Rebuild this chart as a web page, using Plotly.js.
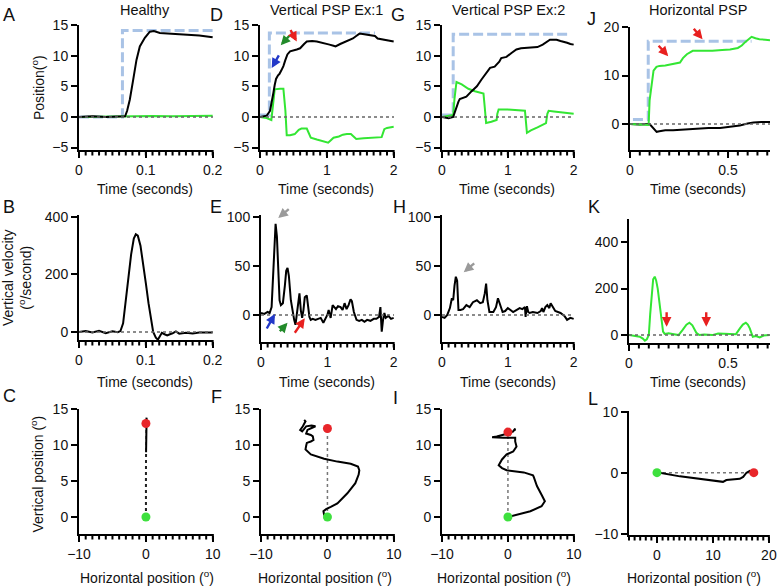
<!DOCTYPE html>
<html><head><meta charset="utf-8">
<script src="https://cdn.plot.ly/plotly-3.0.1.min.js"></script>
<style>body{margin:0;background:#fff}#c{width:778px;height:588px}</style>
</head><body><div id="c"></div>
<script>
// ---------- DATA ----------
// Panel A (Healthy position)
const A_target_t = [0, 0.065, 0.065, 0.2];
const A_target_v = [0, 0, 14.1, 14.1];
const A_black_t = [0, 0.02, 0.04, 0.06, 0.069, 0.072, 0.076, 0.081, 0.086, 0.091, 0.0985, 0.106, 0.112, 0.121, 0.13, 0.15, 0.18, 0.2];
const A_black_v = [0, 0.1, 0, 0.05, 0.1, 1.0, 2.8, 6.0, 9.3, 11.5, 12.9, 13.9, 14.0, 13.7, 13.6, 13.5, 13.3, 13.0];
const A_green_t = [0, 0.03, 0.06, 0.08, 0.11, 0.14, 0.17, 0.2];
const A_green_v = [0, 0.05, 0.0, 0.1, 0.15, 0.1, 0.2, 0.2];
// Panel B (Healthy vertical velocity)
const B_t = [0, 0.01, 0.02, 0.03, 0.04, 0.05, 0.058, 0.062, 0.066, 0.07, 0.074, 0.078, 0.082, 0.085, 0.088, 0.092, 0.096, 0.1, 0.104, 0.108, 0.111, 0.115, 0.118, 0.121, 0.124, 0.128, 0.132, 0.136, 0.14, 0.145, 0.15, 0.16, 0.17, 0.18, 0.19, 0.2];
const B_v = [0, 3, -2, 4, -4, 2, -1, 3, 30, 100, 190, 270, 325, 340, 335, 300, 240, 170, 100, 40, 0, -20, -27, -15, -3, -8, -12, -8, -5, 2, -6, -3, -5, -2, -3, -2];
// Panel C (Healthy trajectory)
const C_fast_x = [0, -0.05, 0, 0.02];
const C_fast_y = [0, 3, 6, 9];
const C_slow_x = [0.02, 0.05, 0.08, 0.1, 0.06, 0];
const C_slow_y = [9, 11, 13, 13.8, 13.4, 13];
const C_start = [0, 0];
const C_end = [0, 13];
// Panel D (Vertical PSP Ex:1 position)
const D_target_t = [0, 0.14, 0.14, 1.72];
const D_target_v = [0.3, 0.3, 13.7, 13.7];
const D_black_t = [0, 0.1, 0.15, 0.18, 0.2, 0.22, 0.24, 0.27, 0.29, 0.32, 0.35, 0.38, 0.41, 0.45, 0.5, 0.55, 0.6, 0.62, 0.66, 0.7, 0.78, 0.85, 0.95, 1.04, 1.1, 1.13, 1.2, 1.29, 1.35, 1.39, 1.44, 1.49, 1.56, 1.64, 1.72, 1.76, 1.82, 1.88, 1.94, 2.0];
const D_black_v = [0, 0.2, 1, 2.5, 3.9, 5.2, 6.2, 6.8, 7.0, 7.6, 8.3, 9.3, 10.2, 10.7, 10.8, 11.0, 11.2, 11.5, 11.9, 12.3, 12.4, 12.3, 12.1, 11.8, 11.6, 11.5, 11.9, 12.3, 12.6, 12.8, 13.2, 13.6, 13.5, 13.3, 13.2, 12.8, 12.7, 12.5, 12.4, 12.3];
const D_green_t = [0, 0.1, 0.17, 0.2, 0.22, 0.3, 0.35, 0.38, 0.4, 0.45, 0.52, 0.58, 0.62, 0.7, 0.72, 0.76, 0.85, 0.95, 1.02, 1.06, 1.1, 1.18, 1.24, 1.3, 1.36, 1.4, 1.44, 1.55, 1.64, 1.75, 1.82, 1.86, 1.9, 2.0];
const D_green_v = [0, -0.2, -0.5, 2, 4.5, 4.6, 4.6, 1, -3, -3, -2.8, -2.1, -1.9, -1.9, -2.5, -3.4, -3.7, -4, -4.2, -3.8, -3.4, -3.2, -2.9, -2.8, -2.8, -3.2, -3.6, -3.5, -3.4, -3.4, -3.3, -2, -1.8, -1.6];
// Panel E (Ex:1 vertical velocity)
const E_t = [0, 0.05, 0.1, 0.13, 0.16, 0.18, 0.2, 0.22, 0.24, 0.26, 0.28, 0.3, 0.33, 0.36, 0.38, 0.4, 0.42, 0.45, 0.48, 0.5, 0.52, 0.54, 0.56, 0.58, 0.6, 0.62, 0.64, 0.66, 0.69, 0.71, 0.73, 0.75, 0.78, 0.82, 0.86, 0.9, 0.94, 0.98, 1.0, 1.02, 1.05, 1.08, 1.1, 1.13, 1.16, 1.2, 1.23, 1.26, 1.29, 1.32, 1.35, 1.37, 1.4, 1.44, 1.48, 1.52, 1.56, 1.6, 1.65, 1.7, 1.74, 1.78, 1.8, 1.82, 1.84, 1.86, 1.88, 1.92, 1.96, 2.0];
const E_v = [2, 1, 3, 2, 8, 35, 75, 93, 80, 40, 15, 10, 12, 30, 45, 48, 40, 15, 2, -5, -10, 0, 12, 22, 5, -3, 5, 18, 20, 5, -2, -5, -4, -5, -4, -3, -8, -2, 0, 5, -3, 10, 8, 6, 9, 8, 5, 12, 6, 10, 16, 14, 3, -5, -6, -5, -7, -5, -6, -4, -4, -2, 8, -17, -5, 2, -3, -1, -4, -3];
// Panel F (Ex:1 trajectory)
const F_x = [0, -0.5, -0.6, -0.2, 0.5, 1.5, 3.0, 4.2, 4.7, 4.8, 4.6, 3.5, 1.5, -0.5, -2.5, -3.3, -3.2, -3.1, -2.5, -2.1, -2.2, -2.5, -3.2, -3.0, -2.3, -1.8, -2.4, -3.2, -3.8, -4.1, -3.7, -3.3, -3.5];
const F_y = [0, 0.3, 0.8, 1.1, 1.4, 1.9, 3.3, 4.7, 5.9, 6.5, 7.0, 7.4, 7.7, 8.1, 8.7, 9.4, 9.9, 10.3, 10.5, 10.7, 11.2, 11.4, 11.6, 12.1, 12.4, 12.6, 12.7, 12.6, 11.9, 12.1, 12.6, 13.3, 13.5];
const F_start = [0, 0];
const F_end = [0, 12.3];
// Panel G (Vertical PSP Ex:2 position)
const G_target_t = [0, 0.17, 0.17, 1.93];
const G_target_v = [0.3, 0.3, 13.5, 13.5];
const G_black_t = [0, 0.1, 0.17, 0.2, 0.22, 0.25, 0.27, 0.3, 0.37, 0.45, 0.53, 0.6, 0.66, 0.68, 0.73, 0.8, 0.83, 0.87, 0.9, 0.98, 1.05, 1.13, 1.2, 1.33, 1.45, 1.53, 1.6, 1.64, 1.7, 1.74, 1.8, 1.84, 1.9, 1.95, 2.0];
const G_black_v = [0, -0.2, 0, 1, 1.7, 2.5, 2.9, 3.0, 3.3, 4.2, 5.0, 6.1, 7.0, 7.4, 8.0, 8.2, 8.5, 9.0, 9.6, 9.8, 10.4, 11.0, 11.2, 11.3, 11.4, 11.8, 12.3, 12.6, 12.6, 12.6, 12.4, 12.3, 12.1, 11.9, 11.8];
const G_green_t = [0, 0.1, 0.17, 0.19, 0.22, 0.3, 0.4, 0.5, 0.55, 0.63, 0.65, 0.67, 0.75, 0.83, 0.84, 0.86, 1.0, 1.1, 1.2, 1.26, 1.29, 1.35, 1.45, 1.58, 1.6, 1.62, 1.7, 1.8, 1.9, 2.0];
const G_green_v = [0, 0.2, 0.3, 3, 5.7, 5.3, 4.6, 4.2, 4.0, 3.8, 1.5, -1.0, -0.8, -0.5, 0.5, 1.2, 1.2, 1.1, 1.0, 1.0, -2.6, -2.2, -1.7, -1.0, 0.5, 1.0, 0.9, 0.8, 0.7, 0.5];
// Panel H (Ex:2 vertical velocity)
const H_t = [0, 0.04, 0.08, 0.1, 0.12, 0.15, 0.17, 0.19, 0.21, 0.23, 0.25, 0.28, 0.32, 0.37, 0.42, 0.47, 0.53, 0.58, 0.62, 0.65, 0.67, 0.69, 0.72, 0.78, 0.82, 0.85, 0.88, 0.92, 0.96, 1.0, 1.04, 1.08, 1.13, 1.18, 1.22, 1.26, 1.27, 1.29, 1.31, 1.33, 1.38, 1.45, 1.5, 1.52, 1.54, 1.57, 1.6, 1.63, 1.65, 1.68, 1.72, 1.8, 1.86, 1.9, 1.95, 2.0];
const H_v = [-2, -3, 0, 3, 7, 17, 15, 30, 39, 35, 5, 5, 6, 10, 8, 13, 15, 12, 13, 22, 32, 15, 3, 3, 8, 17, 10, 3, 4, 7, 5, 3, 5, 7, 6, 8, -2, 9, 3, 2, 3, 2, 4, 7, 3, 8, 10, 7, 12, 8, 4, 2, -1, -5, -3, -4];
// Panel I (Ex:2 trajectory)
const I_x = [0, 1.3, 3.4, 5.1, 5.6, 5.1, 4.4, 3.9, 3.8, 2.4, -0.2, -0.9, -1.4, -0.9, -0.2, 0.8, 1.3, 1.1, 1.1, -0.7, -2.4, -1.7, 0, 0.8, 1.1, 1.0];
const I_y = [0, 0.3, 0.8, 1.5, 2.2, 3.1, 4.3, 5.6, 5.8, 6.2, 6.5, 6.8, 7.2, 8.0, 8.7, 9.1, 9.8, 10.5, 11.0, 11.0, 11.1, 11.2, 11.6, 11.9, 12.3, 12.0];
const I_start = [0, 0];
const I_end = [0, 11.8];
// Panel J (Horizontal PSP position)
const J_target_t = [0.015, 0.093, 0.093, 0.62];
const J_target_v = [0.96, 0.96, 17.1, 17.1];
const J_green_t = [0, 0.05, 0.09, 0.095, 0.1, 0.11, 0.12, 0.135, 0.15, 0.18, 0.22, 0.255, 0.27, 0.29, 0.32, 0.36, 0.42, 0.47, 0.51, 0.55, 0.57, 0.59, 0.61, 0.62, 0.64, 0.66, 0.69, 0.714];
const J_green_v = [0, -0.1, -0.3, -0.2, 4.9, 8.5, 11, 11.8, 12.0, 12.1, 12.4, 12.7, 13.6, 14.4, 15.1, 15.1, 15.1, 15.3, 15.4, 15.7, 16.2, 17.0, 17.8, 18.0, 17.7, 17.5, 17.4, 17.3];
const J_black_t = [0, 0.05, 0.1, 0.12, 0.136, 0.15, 0.18, 0.22, 0.255, 0.3, 0.34, 0.4, 0.46, 0.52, 0.56, 0.6, 0.63, 0.67, 0.714];
const J_black_v = [0, -0.1, 0, -0.9, -1.6, -1.5, -1.3, -1.3, -1.2, -1.0, -0.9, -0.8, -0.8, -0.5, -0.3, 0.1, 0.3, 0.4, 0.4];
// Panel K (Horizontal velocity)
const K_t = [0, 0.03, 0.054, 0.07, 0.08, 0.09, 0.1, 0.107, 0.115, 0.122, 0.13, 0.137, 0.145, 0.155, 0.165, 0.172, 0.18, 0.2, 0.22, 0.25, 0.27, 0.29, 0.305, 0.32, 0.34, 0.355, 0.38, 0.42, 0.45, 0.5, 0.54, 0.56, 0.575, 0.59, 0.6, 0.61, 0.625, 0.64, 0.66, 0.68, 0.71];
const K_v = [0, -3, -7, -15, -24, -18, 0, 90, 194, 240, 251, 235, 200, 120, 50, 15, 5, 8, 5, 0, 21, 45, 53, 42, 10, 0, 2, 0, 7, 5, 4, 29, 45, 53, 45, 29, -7, -4, -10, -2, 0];
// Panel L (Horizontal trajectory)
const L_x = [0, 0.5, 4.1, 7.7, 11.8, 12.4, 14.8, 15.4, 16.0, 16.6, 17.3];
const L_y = [0, 0, -0.6, -1.0, -1.5, -1.2, -1.0, -0.7, 0, 0.3, 0];
const L_start = [0, 0];
const L_end = [17.3, 0];
// Labels
const colTitles = ['Healthy', 'Vertical PSP Ex:1', 'Vertical PSP Ex:2', 'Horizontal PSP'];
const panelLetters = ['A', 'D', 'G', 'J', 'B', 'E', 'H', 'K', 'C', 'F', 'I', 'L'];
const timeTitle = 'Time (seconds)';
const hposTitle = 'Horizontal position (<sup>o</sup>)';
const yTitles = ['Position(<sup>o</sup>)', 'Vertical velocity<br>(<sup>o</sup>/second)', 'Vertical position (<sup>o</sup>)'];

// ---------- LAYOUT ----------
const W = 778, H = 588;
const FONT = 'Liberation Sans, Arial, Helvetica, sans-serif';
const BLUE = '#a9c3e6', GREEN = '#33e633', BLACK = '#000000';
const px = p => p / W, py = p => 1 - p / H;

const P = [
 {xd:[79,213], yd:[25,150], xr:[0,0.2005], yr:[-5.4,15], xdt:0.1, xm:0.01, ydt:5},
 {xd:[260,394], yd:[25,150], xr:[0,2.005], yr:[-5.4,15], xdt:1, xm:0.1, ydt:5},
 {xd:[442,574], yd:[25,150], xr:[0,2.005], yr:[-5.4,15], xdt:1, xm:0.1, ydt:5},
 {xd:[630,770], yd:[27,150], xr:[0,0.714], yr:[-5.35,20.02], xdt:0.5, xm:0.05, ydt:10},
 {xd:[79,213], yd:[215,340], xr:[0,0.2005], yr:[-28,407], xdt:0.1, xm:0.01, ydt:200},
 {xd:[261,394], yd:[215,342], xr:[0,2.005], yr:[-27.6,102], xdt:1, xm:0.1, ydt:50},
 {xd:[442,574], yd:[215,342], xr:[0,2.005], yr:[-27.6,102], xdt:1, xm:0.1, ydt:50},
 {xd:[629,770], yd:[219,343], xr:[0,0.712], yr:[-34,499], xdt:0.5, xm:0.05, ydt:200},
 {xd:[79,213], yd:[409,534], xr:[-10,10.02], yr:[-2.36,15.01], xdt:10, xm:1, ydt:5},
 {xd:[261,394], yd:[409,534], xr:[-10,10.02], yr:[-2.36,15.01], xdt:10, xm:1, ydt:5},
 {xd:[442,574], yd:[409,534], xr:[-10,10.02], yr:[-2.36,15.01], xdt:10, xm:1, ydt:5},
 {xd:[629,769], yd:[411,535], xr:[-5,20.02], yr:[-10.2,10.1], xdt:10, xm:1, ydt:10},
];

const layout = {
  width: W, height: H, margin: {l:0, r:0, t:0, b:0},
  paper_bgcolor: '#fff', plot_bgcolor: 'rgba(0,0,0,0)',
  showlegend: false, font: {family: FONT, size: 14, color: '#111'},
  annotations: [], shapes: []
};
P.forEach((p, i) => {
  const n = i === 0 ? '' : String(i + 1);
  layout['xaxis' + n] = {
    domain: [px(p.xd[0]), px(p.xd[1])], anchor: 'y' + n, range: p.xr,
    showline: true, linewidth: 2, linecolor: '#000', showgrid: false, zeroline: false,
    ticks: 'outside', ticklen: 6, tickwidth: 2, tickcolor: '#000',
    tickmode: 'linear', tick0: 0, dtick: p.xdt, tickfont: {size: 14, family: FONT, color: '#111'},
    fixedrange: true
  };
  layout['yaxis' + n] = {
    domain: [py(p.yd[1]), py(p.yd[0])], anchor: 'x' + n, range: p.yr,
    showline: true, linewidth: 2, linecolor: '#000', showgrid: false, zeroline: false,
    ticks: 'outside', ticklen: 6, tickwidth: 2, tickcolor: '#000',
    tickmode: 'linear', tick0: 0, dtick: p.ydt, tickfont: {size: 14, family: FONT, color: '#111'},
    fixedrange: true
  };
  if (i < 8) {
    layout.shapes.push({type:'line', xref:'x' + n + ' domain', yref:'y' + n, x0:0, x1:1, y0:0, y1:0,
      line:{color:'#666', width:1.5, dash:'dot'}});
  }
  // minor x ticks (axis decoration) in paper coordinates, at multiples of the minor step
  const nMin = Math.ceil(p.xr[0] / p.xm - 1e-6), nMax = Math.floor(p.xr[1] / p.xm + 1e-6);
  for (let k = nMin; k <= nMax; k++) {
    const f = (k * p.xm - p.xr[0]) / (p.xr[1] - p.xr[0]);
    const xp = px(p.xd[0] + f * (p.xd[1] - p.xd[0]));
    layout.shapes.push({type:'line', xref:'paper', yref:'paper',
      x0:xp, x1:xp, y0:py(p.yd[1]), y1:py(p.yd[1] + 5.5), line:{color:'#000', width:2}, layer:'above'});
  }
});

const traces = [];
const ax = i => (i === 0 ? '' : String(i + 1));
function line(i, x, y, color, width, dash) {
  traces.push({type:'scatter', mode:'lines', x, y, xaxis:'x' + ax(i), yaxis:'y' + ax(i),
    line:{color, width, dash: dash || 'solid', shape:'linear'}, hoverinfo:'skip'});
}
function dots(i, s, e) {
  traces.push({type:'scatter', mode:'lines', x:[s[0], e[0]], y:[s[1], e[1]], xaxis:'x' + ax(i), yaxis:'y' + ax(i),
    line:{color:'#777', width:1.5, dash:'dot'}, hoverinfo:'skip'});
}
function marks(i, s, e) {
  traces.push({type:'scatter', mode:'markers', x:[s[0]], y:[s[1]], xaxis:'x' + ax(i), yaxis:'y' + ax(i),
    marker:{color:'#3ee03e', size:9}, hoverinfo:'skip'});
  traces.push({type:'scatter', mode:'markers', x:[e[0]], y:[e[1]], xaxis:'x' + ax(i), yaxis:'y' + ax(i),
    marker:{color:'#e8262a', size:9}, hoverinfo:'skip'});
}
const TD = '10px,4px';
line(0, A_target_t, A_target_v, BLUE, 3, TD);
line(0, A_green_t, A_green_v, GREEN, 2);
line(0, A_black_t, A_black_v, BLACK, 2);
line(1, D_target_t, D_target_v, BLUE, 3, TD);
line(1, D_green_t, D_green_v, GREEN, 2);
line(1, D_black_t, D_black_v, BLACK, 2);
line(2, G_target_t, G_target_v, BLUE, 3, TD);
line(2, G_green_t, G_green_v, GREEN, 2);
line(2, G_black_t, G_black_v, BLACK, 2);
line(3, J_target_t, J_target_v, BLUE, 3, TD);
line(3, J_black_t, J_black_v, BLACK, 2);
line(3, J_green_t, J_green_v, GREEN, 2);
line(4, B_t, B_v, BLACK, 2);
line(5, E_t, E_v, BLACK, 2);
line(6, H_t, H_v, BLACK, 2);
line(7, K_t, K_v, GREEN, 2);
dots(8, C_start, C_end);
line(8, C_fast_x, C_fast_y, '#222', 2, 'dot');
line(8, C_slow_x, C_slow_y, BLACK, 2);
marks(8, C_start, C_end);
dots(9, F_start, F_end);
line(9, F_x, F_y, BLACK, 2);
marks(9, F_start, F_end);
dots(10, I_start, I_end);
line(10, I_x, I_y, BLACK, 2);
marks(10, I_start, I_end);
dots(11, L_start, L_end);
line(11, L_x, L_y, BLACK, 2);
marks(11, L_start, L_end);

// ---------- TEXT ANNOTATIONS ----------
const A = layout.annotations;
function txt(x, y, text, size, opts) {
  A.push(Object.assign({xref:'paper', yref:'paper', x:px(x), y:py(y), text, showarrow:false,
    xanchor:'center', yanchor:'middle', font:{family:FONT, size, color:'#111'}}, opts || {}));
}
const titleX = [145, 326, 508, 698];
colTitles.forEach((t, k) => txt(titleX[k], 10, t, 14.5));
const letterPos = [[9,15],[217,15],[398,15],[591,19],[9,207],[216,207],[399,207],[594,207],[9.5,396],[216.5,397],[395,398],[593,399]];
panelLetters.forEach((l, k) => txt(letterPos[k][0], letterPos[k][1], l, 18));
[145, 326, 507, 698].forEach(x => txt(x, 189, timeTitle, 14));
[145, 327, 508, 698].forEach(x => txt(x, 382, timeTitle, 14));
[147, 325, 504, 694].forEach(x => txt(x, 577, hposTitle, 14));
txt(38, 88, yTitles[0], 14, {textangle:-90});
txt(17, 278, yTitles[1], 14, {textangle:-90});
txt(37.5, 474, yTitles[2], 14, {textangle:-90});

// ---------- ARROWS ----------
function arrow(i, x, y, dx, dy, color) {
  A.push({xref:'x' + ax(i), yref:'y' + ax(i), x, y, ax:dx, ay:dy, text:'', showarrow:true,
    arrowhead:2, arrowsize:0.8, arrowwidth:2.4, arrowcolor:color, standoff:0});
}
const DBLUE = '#2238c8', DGREEN = '#228a2a', RED = '#e8201f', GRAY = '#9a9a9a';
arrow(1, 0.175, 8.0, 8, -14, DBLUE);
arrow(1, 0.31, 11.7, 10, -11, DGREEN);
arrow(1, 0.55, 12.3, -7, -13, RED);
arrow(5, 0.26, 99, 12, -10, GRAY);
arrow(5, 0.21, 1, -9, 16, DBLUE);
arrow(5, 0.4, -8, -9, 10, DGREEN);
arrow(5, 0.66, -3.4, -11, 16, RED);
arrow(6, 0.33, 43.7, 12, -10, GRAY);
arrow(3, 0.195, 14, -11, -12, RED);
arrow(3, 0.37, 17.5, -10, -12, RED);
arrow(7, 0.19, 36, 0, -16, RED);
arrow(7, 0.39, 36, 0, -16, RED);

Plotly.newPlot('c', traces, layout, {staticPlot:true, displayModeBar:false});
</script></body></html>
